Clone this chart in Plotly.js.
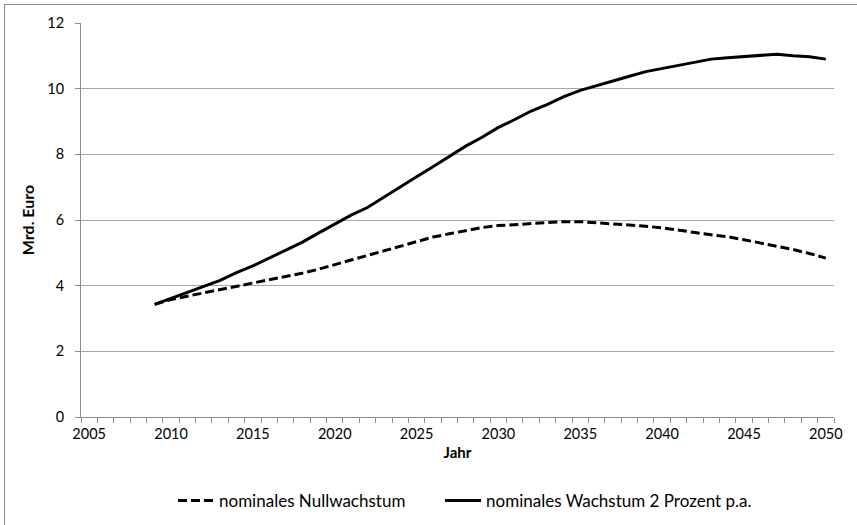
<!DOCTYPE html>
<html>
<head>
<meta charset="utf-8">
<script src="https://cdn.plot.ly/plotly-3.0.1.min.js"></script>
<style>
html,body{margin:0;padding:0;background:#fff;}
#wrap{position:relative;width:857px;height:525px;}
#chart{position:absolute;left:0;top:0;width:857px;height:525px;}
#frame{position:absolute;left:4px;top:4px;width:900px;height:600px;border-left:1px solid #8c8c8c;border-top:1px solid #8c8c8c;pointer-events:none;}
</style>
</head>
<body>
<div id="wrap"><div id="chart"></div><div id="frame"></div></div>
<script>
const years = [2009,2010,2011,2012,2013,2014,2015,2016,2017,2018,2019,2020,2021,2022,2023,2024,2025,2026,2027,2028,2029,2030,2031,2032,2033,2034,2035,2036,2037,2038,2039,2040,2041,2042,2043,2044,2045,2046,2047,2048,2049,2050];
const nullwachstum = [3.43,3.58,3.68,3.78,3.88,3.98,4.08,4.18,4.27,4.38,4.50,4.65,4.78,4.92,5.06,5.20,5.35,5.48,5.58,5.68,5.77,5.83,5.86,5.89,5.92,5.95,5.95,5.92,5.88,5.85,5.81,5.76,5.70,5.62,5.55,5.49,5.40,5.30,5.22,5.10,4.98,4.84];
const wachstum2 = [3.43,3.62,3.80,3.98,4.16,4.40,4.60,4.84,5.08,5.32,5.60,5.88,6.15,6.38,6.70,7.00,7.32,7.62,7.93,8.25,8.52,8.82,9.06,9.32,9.52,9.76,9.95,10.10,10.24,10.38,10.52,10.62,10.72,10.80,10.90,10.94,10.98,11.02,11.05,11.00,10.97,10.90];
const xTickLabels = [2005,2010,2015,2020,2025,2030,2035,2040,2045,2050];
const yTickVals = [0,2,4,6,8,10,12];
const names = ['nominales Nullwachstum','nominales Wachstum 2 Prozent p.a.'];

const font = 'Lato, "Open Sans", "Liberation Sans", sans-serif';
const traces = [
  {x: years, y: nullwachstum, name: names[0], type: 'scatter', mode: 'lines',
   line: {color: '#000', width: 3, dash: '9px,4px'}, legend: 'legend'},
  {x: years, y: wachstum2, name: names[1], type: 'scatter', mode: 'lines',
   line: {color: '#000', width: 3}, legend: 'legend2'}
];
const legendBase = {orientation: 'h', yanchor: 'middle', xanchor: 'left', y: -0.213,
                    font: {family: font, size: 17}, itemwidth: 36, bgcolor: 'rgba(0,0,0,0)'};
const layout = {
  width: 857, height: 525,
  margin: {l: 81, r: 23, t: 23, b: 108, autoexpand: false},
  paper_bgcolor: 'rgba(0,0,0,0)', plot_bgcolor: '#fff',
  font: {family: font, size: 14, color: '#000'},
  showlegend: true,
  legend: Object.assign({}, legendBase, {x: 0.1222}),
  legend2: Object.assign({}, legendBase, {x: 0.4768}),
  xaxis: {
    range: [2004.5, 2050.5], tickvals: xTickLabels, ticktext: xTickLabels.map(String),
    ticks: '', showgrid: false, zeroline: false,
    showline: true, linecolor: '#8c8c8c', linewidth: 1,
    tickfont: {family: font, size: 14.5}, ticklabelstandoff: 4,
    minor: {tick0: 2004.5, dtick: 1, ticks: 'outside', ticklen: 5, tickcolor: '#8c8c8c', showgrid: false},
    title: {text: '<b>Jahr</b>', font: {family: font, size: 15}, standoff: 6}
  },
  yaxis: {
    range: [0, 12], tickvals: yTickVals, ticks: 'outside', ticklen: 5, tickcolor: '#8c8c8c',
    showgrid: true, gridcolor: '#a6a6a6', gridwidth: 1, zeroline: false,
    showline: true, linecolor: '#8c8c8c', linewidth: 1,
    tickfont: {family: font, size: 14.5}, ticklabelstandoff: 8,
    title: {text: '<b>Mrd. Euro</b>', font: {family: font, size: 16}, standoff: 8}
  }
};
Plotly.newPlot('chart', traces, layout, {displayModeBar: false, staticPlot: true});
</script>
</body>
</html>
